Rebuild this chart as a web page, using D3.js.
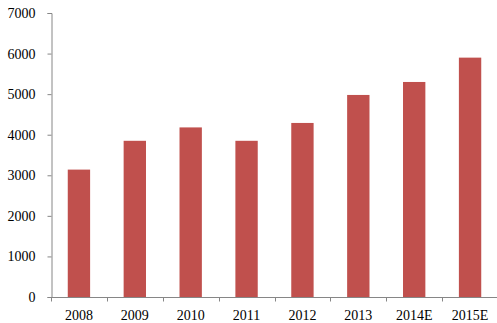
<!DOCTYPE html>
<html>
<head>
<meta charset="utf-8">
<script src="https://cdn.jsdelivr.net/npm/d3@7"></script>
<style>
  body { margin: 0; background: #fff; }
  .axis text { font-family: "Liberation Serif", "Times New Roman", serif; font-size: 14px; fill: #000; }
  .axis path, .axis line { stroke: #868686; }
</style>
</head>
<body>
<svg width="497" height="323"></svg>
<script>
// chart data
var years = ['2008', '2009', '2010', '2011', '2012', '2013', '2014E', '2015E'];
var values = [3140, 3850, 4180, 3850, 4290, 4980, 5300, 5900];
var yTicks = [0, 1000, 2000, 3000, 4000, 5000, 6000, 7000];

var svg = d3.select('svg');

var padding = { t: 13, r: 0, b: 26, l: 51 };
var chartRight = 498;
var chartBottom = 297;

var xScale = d3.scaleBand()
    .domain(years)
    .range([padding.l, chartRight])
    .paddingInner(0.6)
    .paddingOuter(0.3);

// linear scale used only for the tick marks between categories
var xEdges = d3.scaleLinear()
    .domain([0, years.length])
    .range([padding.l, chartRight]);

var yScale = d3.scaleLinear()
    .domain([0, 7000])
    .range([chartBottom, padding.t]);

// bars
svg.selectAll('.bar')
    .data(values)
    .enter()
    .append('rect')
    .attr('class', 'bar')
    .attr('x', function (d, i) { return xScale(years[i]); })
    .attr('y', function (d) { return yScale(d); })
    .attr('width', xScale.bandwidth())
    .attr('height', function (d) { return chartBottom - yScale(d); })
    .attr('fill', '#C0504D');

// y axis
svg.append('g')
    .attr('class', 'y axis')
    .attr('transform', `translate(${padding.l + 0.5}, 0)`)
    .call(d3.axisLeft(yScale)
        .tickValues(yTicks)
        .tickFormat(d3.format('d'))
        .tickSize(4)
        .tickPadding(12)
        .tickSizeOuter(4));

// x axis line + separator ticks
var xg = svg.append('g')
    .attr('class', 'x axis')
    .attr('transform', `translate(0, ${chartBottom + 0.5})`);

xg.append('path')
    .attr('d', `M${padding.l},0H${chartRight}`)
    .attr('fill', 'none');

xg.selectAll('.sep')
    .data(d3.range(years.length + 1))
    .enter()
    .append('line')
    .attr('class', 'sep')
    .attr('x1', function (d) { return Math.round(xEdges(d)) + 0.5; })
    .attr('x2', function (d) { return Math.round(xEdges(d)) + 0.5; })
    .attr('y1', 0)
    .attr('y2', 4);

xg.selectAll('.lbl')
    .data(years)
    .enter()
    .append('text')
    .attr('class', 'lbl')
    .attr('x', function (d) { return xScale(d) + xScale.bandwidth() / 2; })
    .attr('y', 22)
    .attr('text-anchor', 'middle')
    .text(function (d) { return d; });
</script>
</body>
</html>
